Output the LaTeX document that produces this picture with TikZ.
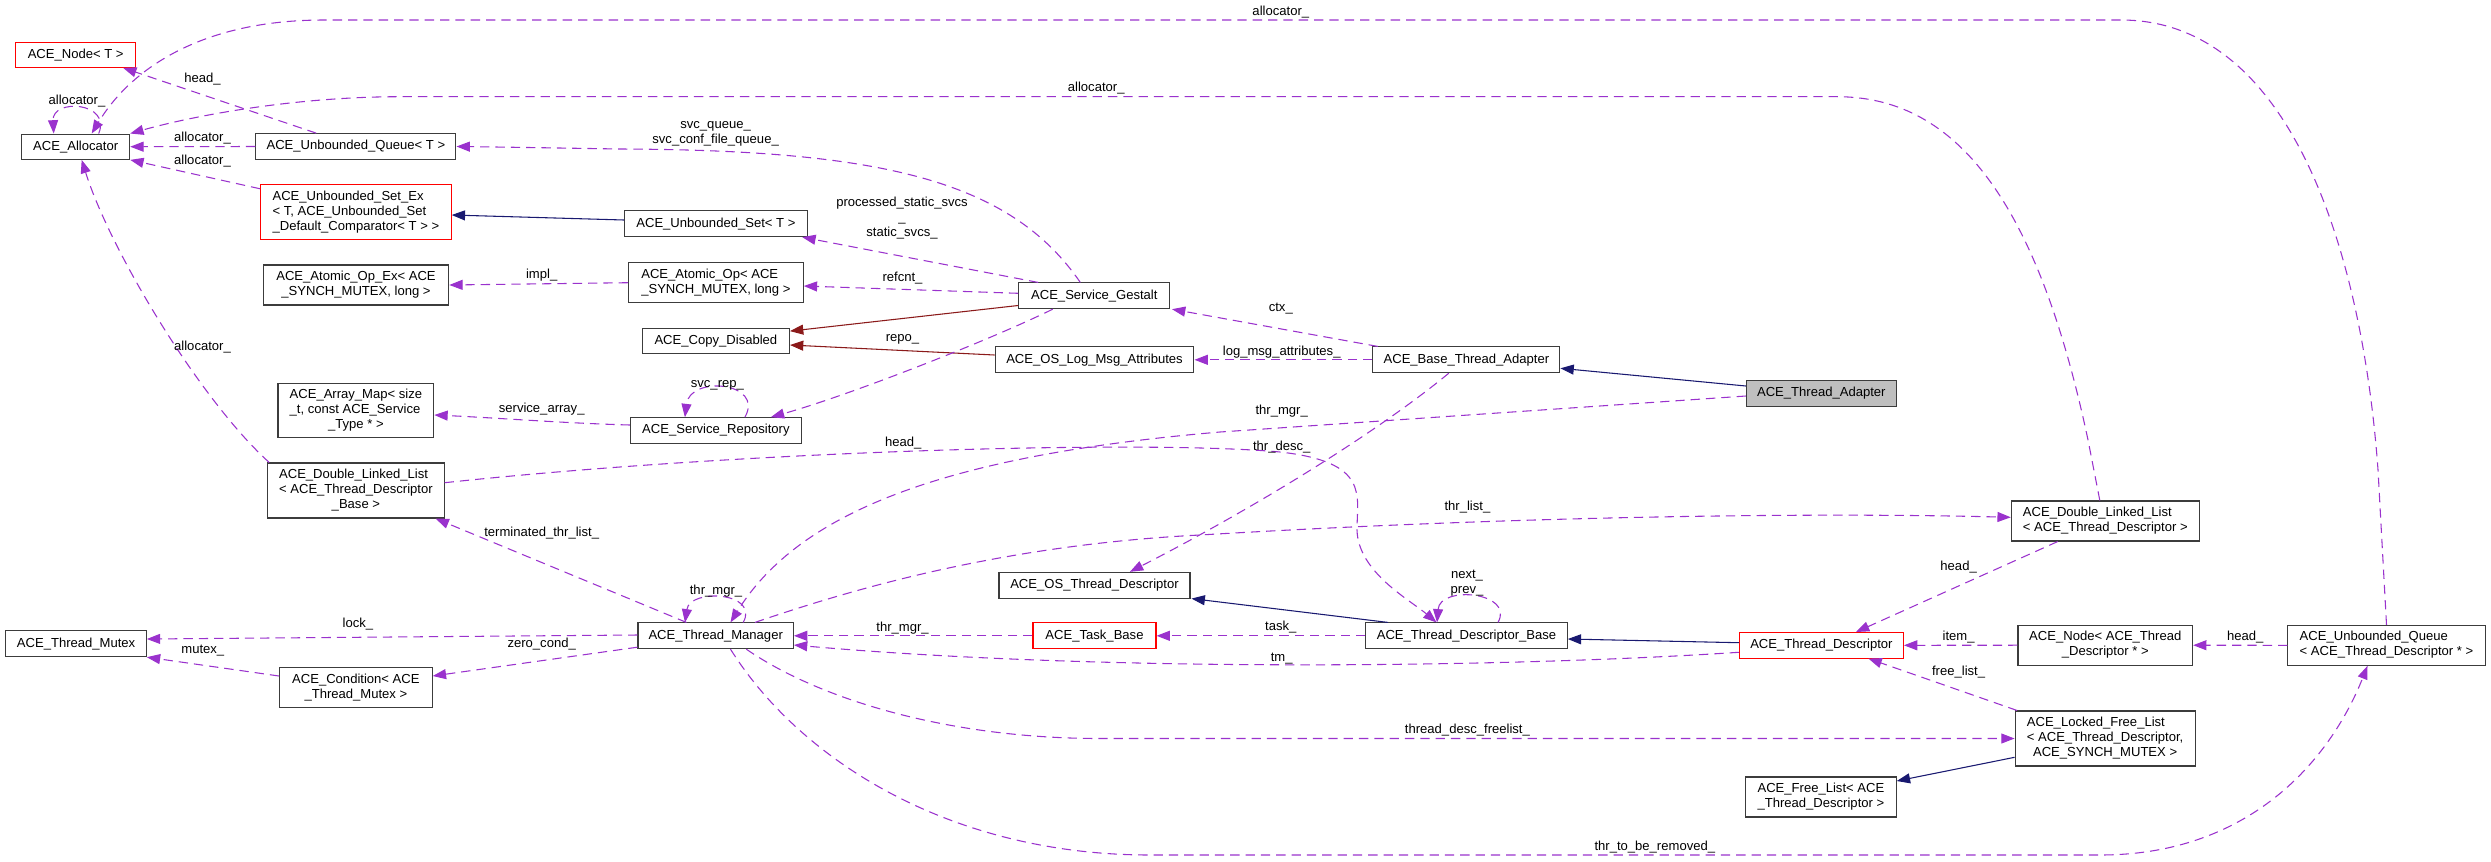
\documentclass[tikz,border=0pt]{standalone}
\usepackage{fontspec}
\setmainfont{Liberation Sans}
\usetikzlibrary{arrows.meta,calc}

\definecolor{memcol}{RGB}{154,50,205}
\definecolor{inhcol}{RGB}{25,25,112}
\definecolor{privcol}{RGB}{139,26,26}
\definecolor{boxcol}{RGB}{60,60,60}
\newcommand\acefont{\fontsize{9.8pt}{11.25pt}\selectfont}
% left aligned lines, last line centred
\newcommand\mlines[2]{\begin{tabular}{@{}l@{}}#1\\\multicolumn{1}{@{}c@{}}{#2}\end{tabular}}

\tikzset{
  cls/.style 2 args={draw=boxcol, fill=white, line width=0.8pt, inner sep=0pt,
    font=\acefont, minimum width=#1*0.75pt, minimum height=#2*0.75pt},
  member/.style={draw=memcol, line width=0.8pt, dash pattern=on 7pt off 4.5pt,
    -{Triangle[length=10pt,width=7.5pt,fill=memcol]}},
  inherit/.style={draw=inhcol, line width=0.8pt, -{Triangle[length=10pt,width=7.5pt,fill=inhcol]}},
  privinh/.style={draw=privcol, line width=0.8pt, -{Triangle[length=10pt,width=7.5pt,fill=privcol]}},
  lbl/.style={font=\acefont, inner sep=0pt, align=center}
}

\begin{document}
\begin{tikzpicture}[x=0.75pt,y=-0.75pt]
        \useasboundingbox (0,0) rectangle (2491,861);

        % Classes, column by column
        \node[cls={119.8}{25.3}, draw=red] (nodeT) at (75.7,54.7) {ACE\_Node< T >};
        \node[cls={108}{25.3}] (alloc) at (75.7,146.7) {ACE\_Allocator};
        \node[cls={140.4}{25.7}] (tmutex) at (76.1,643.8) {ACE\_Thread\_Mutex};

        \node[cls={200.1}{25.6}] (uqT) at (355.9,146.5) {ACE\_Unbounded\_Queue< T >};
        \node[cls={190.6}{54.6}, draw=red] (usetex) at (355.9,212) {\mlines{ACE\_Unbounded\_Set\_Ex\\< T, ACE\_Unbounded\_Set}{\_Default\_Comparator< T > >}};
        \node[cls={185.5}{40}] (aopex) at (356,285) {\mlines{ACE\_Atomic\_Op\_Ex< ACE}{\_SYNCH\_MUTEX, long >}};
        \node[cls={155.8}{54.4}] (amap) at (355.9,410.5) {\mlines{ACE\_Array\_Map< size\\\_t, const ACE\_Service}{\_Type * >}};
        \node[cls={176.3}{55}] (dlltdb) at (355.9,490.5) {\mlines{ACE\_Double\_Linked\_List\\< ACE\_Thread\_Descriptor}{\_Base >}};
        \node[cls={152.6}{40.3}] (cond) at (355.9,687.8) {\mlines{ACE\_Condition< ACE}{\_Thread\_Mutex >}};

        \node[cls={182.7}{25.7}] (uset) at (715.9,223.8) {ACE\_Unbounded\_Set< T >};
        \node[cls={174.7}{40}] (aop) at (715.9,282.7) {\mlines{ACE\_Atomic\_Op< ACE}{\_SYNCH\_MUTEX, long >}};
        \node[cls={147.1}{25.3}] (copydis) at (715.9,341.3) {ACE\_Copy\_Disabled};
        \node[cls={170.9}{25.6}] (srvrep) at (715.9,430.5) {ACE\_Service\_Repository};
        \node[cls={155.4}{25.7}] (thrmgr) at (715.7,635.8) {ACE\_Thread\_Manager};

        \node[cls={151.1}{25.7}] (gestalt) at (1094.3,295.8) {ACE\_Service\_Gestalt};
        \node[cls={198.9}{25.7}] (oslog) at (1094.5,359.8) {ACE\_OS\_Log\_Msg\_Attributes};
        \node[cls={191}{25.7}] (ostd) at (1094.5,585.2) {ACE\_OS\_Thread\_Descriptor};
        \node[cls={123}{25.7}, draw=red] (taskbase) at (1094.5,635.8) {ACE\_Task\_Base};

        \node[cls={187}{25.7}] (basetha) at (1466.4,359.8) {ACE\_Base\_Thread\_Adapter};
        \node[cls={201.5}{25.7}] (tdbase) at (1466.5,635.8) {ACE\_Thread\_Descriptor\_Base};

        \node[cls={149.8}{25.7}, fill=black!25] (thradapt) at (1821.3,393.2) {ACE\_Thread\_Adapter};
        \node[cls={164}{25.5}, draw=red] (thrdesc) at (1821.4,645.3) {ACE\_Thread\_Descriptor};
        \node[cls={150.6}{40}] (freelist) at (1820.9,797) {\mlines{ACE\_Free\_List< ACE}{\_Thread\_Descriptor >}};

        \node[cls={188}{40}] (dlltd) at (2105.3,521) {\mlines{ACE\_Double\_Linked\_List}{< ACE\_Thread\_Descriptor >}};
        \node[cls={174.6}{40.3}] (nodetd) at (2105.3,645.2) {\mlines{ACE\_Node< ACE\_Thread}{\_Descriptor * >}};
        \node[cls={180}{55}] (lfl) at (2105.1,738.5) {\mlines{ACE\_Locked\_Free\_List\\< ACE\_Thread\_Descriptor,}{ACE\_SYNCH\_MUTEX >}};
        \node[cls={197.3}{40}] (uqtd) at (2386.5,645.3) {\mlines{ACE\_Unbounded\_Queue}{< ACE\_Thread\_Descriptor * >}};

        % Inheritance
        \draw[inherit] ($(uset.west)+(0,-3.8)$) -- ($(usetex.east)+(0,3)$);
        \draw[inherit] ($(thradapt.west)+(0,-7.2)$) -- ($(basetha.east)+(0,8.5)$);
        \draw[inherit] ($(tdbase.north west)+(22.8,0)$) -- ($(ostd.south east)+(1,0)$);
        \draw[inherit] ($(thrdesc.west)+(0,-2.6)$) -- ($(tdbase.east)+(0,3.2)$);
        \draw[inherit] ($(lfl.west)+(0,18.8)$) -- ($(freelist.east)+(0,-16)$);
        \draw[privinh] ($(gestalt.south west)+(0,-3.7)$) -- ($(copydis.north east)+(0,3)$);
        \draw[privinh] ($(oslog.west)+(0,-4.8)$) -- ($(copydis.east)+(0,3.7)$);

        % Members, long ones first
        \draw[member] (uqtd.north) -- (2378,470) .. controls (2362,250) and (2290,20) .. (2121,20)
            -- (324,20) .. controls (200,20) and (130,70) .. ($(alloc.north)+(16,0)$);
        \draw[member] ($(dlltd.north)+(-5.5,0)$) -- (2088,440) .. controls (2035,190) and (1950,96.7) .. (1837,96.7)
            -- (400,96.7) .. controls (300,96.7) and (200,114) .. (alloc.north east);
        \draw[member] ($(dlltdb.north west)+(2,0)$) .. controls (200,400) and (110,250) .. ($(alloc.south)+(6,0)$);
        \draw[member] ($(thrmgr.south)+(14.8,0)$) .. controls (800,760) and (950,855) .. (1150,855)
            -- (2100,855) .. controls (2250,855) and (2330,760) .. ($(uqtd.south)+(-19,0)$);
        \draw[member] ($(thrmgr.south)+(30.6,0)$) .. controls (820,700) and (950,738.5) .. (1100,738.5) -- (lfl.west);
        \draw[member] ($(thrmgr.north east)+(-39,0)$) .. controls (850,590) and (1000,545) .. (1200,535)
            .. controls (1500,517) and (1800,512) .. ($(dlltd.west)+(0,-3.7)$);
        \draw[member] ($(dlltdb.east)+(0,-7.8)$) .. controls (750,450) and (1150,440) .. (1280,452)
            .. controls (1370,462) and (1357,495) .. (1357,530) .. controls (1358,572) and (1410,600) .. ($(tdbase.north)+(-30,0)$);
        \draw[member] ($(thradapt.west)+(0,2.8)$) -- (1220,432) .. controls (950,455) and (800,510) .. ($(thrmgr.north)+(14.8,0)$);
        \draw[member] ($(basetha.south)+(-17.6,0)$) .. controls (1380,430) and (1260,505) .. ($(ostd.north)+(35.4,0)$);
        \draw[member] ($(thrdesc.south west)+(0,-6.3)$) .. controls (1500,668) and (1100,672) .. ($(thrmgr.east)+(0,9.2)$);
        \draw[member] ($(gestalt.north)+(-14,0)$) .. controls (1010,180) and (880,150) .. (620,149)
            .. controls (560,148) and (500,147) .. (uqT.east);
        \draw[member] ($(gestalt.south)+(-41.6,0)$) .. controls (990,340) and (850,395) .. ($(srvrep.north east)+(-31,0)$);
        \draw[member] ($(srvrep.west)+(0,-5.5)$) .. controls (560,423) and (500,418) .. ($(amap.east)+(0,4.5)$);

        % Members, straight ones
        \draw[member] (uqT.west) -- (alloc.east);
        \draw[member] ($(uqT.north)+(-39.6,0)$) -- ($(nodeT.south east)+(-13,0)$);
        \draw[member] ($(usetex.north west)+(0,4.6)$) -- (alloc.south east);
        \draw[member] ($(gestalt.north west)+(20,0)$) -- ($(uset.south east)+(-5.5,0)$);
        \draw[member] ($(gestalt.west)+(0,-2.5)$) -- ($(aop.east)+(0,3.3)$);
        \draw[member] (aop.west) -- (aopex.east);
        \draw[member] ($(basetha.north west)+(5.4,0)$) -- ($(gestalt.south east)+(1.6,0)$);
        \draw[member] (basetha.west) -- (oslog.east);
        \draw[member] ($(thrmgr.north west)+(49,0)$) -- ($(dlltdb.south east)+(-9,0)$);
        \draw[member] ($(thrmgr.west)+(0,-0.8)$) -- ($(tmutex.east)+(0,-4.8)$);
        \draw[member] ($(thrmgr.south west)+(0,-2)$) -- ($(cond.east)+(0,-11.8)$);
        \draw[member] ($(cond.west)+(0,-11.8)$) -- (tmutex.south east);
        \draw[member] (taskbase.west) -- (thrmgr.east);
        \draw[member] (tdbase.west) -- (taskbase.east);
        \draw[member] ($(dlltd.south)+(-47.6,0)$) -- ($(thrdesc.north east)+(-48,0)$);
        \draw[member] (nodetd.west) -- (thrdesc.east);
        \draw[member] (uqtd.west) -- (nodetd.east);
        \draw[member] ($(lfl.north west)+(2.5,0)$) -- ($(thrdesc.south east)+(-35.5,0)$);

        % Self loops
        \draw[member] ($(alloc.north)+(23,0)$) .. controls (112,102) and (52,98) .. ($(alloc.north)+(-22,0)$);
        \draw[member] ($(srvrep.north)+(29,0)$) .. controls (765,382) and (690,375) .. ($(srvrep.north)+(-31,0)$);
        \draw[member] ($(thrmgr.north)+(27.5,0)$) .. controls (760,592) and (690,588) .. ($(thrmgr.north)+(-30.7,0)$);
        \draw[member] ($(tdbase.north)+(31.5,0)$) .. controls (1515,592) and (1440,585) .. ($(tdbase.north)+(-29.5,0)$);

        % Edge labels
        \foreach \n/\x/\y/\txt in {la1/1280.8/11.7/allocator\_, la2/1096.2/87.7/allocator\_,
            la3/77/100.7/allocator\_, lhead1/202.5/78.7/head\_, la4/202.5/138.3/allocator\_,
            la5/202.5/160.7/allocator\_, la6/202.5/346.7/allocator\_, limpl/541.7/275/impl\_,
            lsarr/541.7/408.7/service\_array\_, lrefcnt/902.5/278.3/refcnt\_, lrepo/902.5/339.3/repo\_,
            lsvcrep/717.4/385/svc\_rep\_, lctx/1280.8/309/ctx\_, llog/1281.7/351.7/log\_msg\_attributes\_,
            lmgr1/1281.7/410.7/thr\_mgr\_, lhead2/903.3/442.7/head\_, ldesc/1281.7/446.7/thr\_desc\_,
            llist/1467.4/506.7/thr\_list\_, lterm/541.7/532.7/terminated\_thr\_list\_,
            lmgr2/716/591/thr\_mgr\_, llock/357.9/624.3/lock\_, lmgr3/902.5/627.7/thr\_mgr\_,
            ltask/1280.8/627.3/task\_, lzero/541.7/644/zero\_cond\_, lmutex/202.8/650.7/mutex\_,
            ltm/1281.7/658.7/tm\_, lfree/1467.4/730/thread\_desc\_freelist\_,
            lremove/1654.8/847.3/thr\_to\_be\_removed\_, lhead3/1958.6/566.7/head\_,
            litem/1958.6/636.7/item\_, lhead4/2245.3/636.7/head\_, lflist/1958.6/671.7/free\_list\_} {
            \node[lbl] (\n) at (\x,\y) {\txt};
        };
        \node[lbl] (lsvcq) at (715.6,133.7) {svc\_queue\_\\svc\_conf\_file\_queue\_};
        \node[lbl] (lstatic) at (902,218) {processed\_static\_svcs\\\_\\static\_svcs\_};
        \node[lbl] (lnext) at (1467,583.3) {next\_\\prev\_};
    \end{tikzpicture}
\end{document}
